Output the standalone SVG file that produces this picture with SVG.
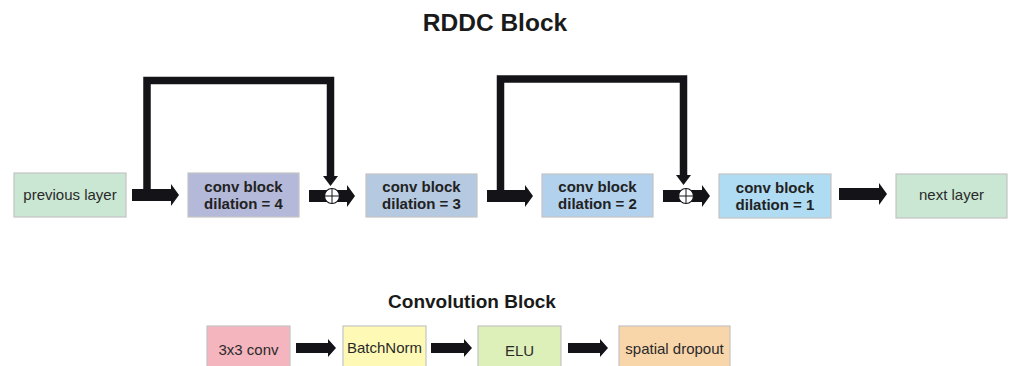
<svg xmlns="http://www.w3.org/2000/svg" width="1013" height="366" viewBox="0 0 1013 366">
<style>
.box{stroke:#c4c4c4;stroke-width:1.2}
.t{font-family:"Liberation Sans",Arial,sans-serif;font-size:15px;fill:#2a2a2a;text-anchor:middle}
.b{font-weight:bold;fill:#222}
.title{font-family:"Liberation Sans",Arial,sans-serif;font-weight:bold;fill:#1a1a1a;text-anchor:middle}
.arr{fill:#141418}
.skip{fill:none;stroke:#141418;stroke-width:7.5;stroke-linejoin:miter}
.sum{fill:#fff;stroke:#141418;stroke-width:1.2}
</style>
<rect width="1013" height="366" fill="#fff"/>
<text class="title" x="495" y="31" font-size="24.5">RDDC Block</text>
<text class="title" x="472" y="308" font-size="19">Convolution Block</text>

<g id="previous-layer"><rect class="box" x="14" y="173" width="112" height="44" fill="#c9e7d2"/><text class="t" x="70" y="200">previous layer</text></g>
<g id="conv-d4"><rect class="box" x="188" y="173" width="111" height="44" fill="#b5b9d9"/><text class="t b" x="243.5" y="192">conv block</text><text class="t b" x="243.5" y="209">dilation = 4</text></g>
<g id="conv-d3"><rect class="box" x="366" y="174" width="111" height="43" fill="#b5c9e1"/><text class="t b" x="421.5" y="192">conv block</text><text class="t b" x="421.5" y="209">dilation = 3</text></g>
<g id="conv-d2"><rect class="box" x="542" y="174" width="111" height="43" fill="#b1d1ed"/><text class="t b" x="597.5" y="192">conv block</text><text class="t b" x="597.5" y="209">dilation = 2</text></g>
<g id="conv-d1"><rect class="box" x="719" y="174" width="112" height="44" fill="#afdcf3"/><text class="t b" x="775" y="193">conv block</text><text class="t b" x="775" y="210">dilation = 1</text></g>
<g id="next-layer"><rect class="box" x="896" y="174" width="111" height="44" fill="#c9e7d2"/><text class="t" x="951.5" y="200">next layer</text></g>

<g id="conv3x3"><rect class="box" x="207" y="326" width="83" height="46" fill="#f4b5be"/><text class="t" x="248.5" y="355">3x3 conv</text></g>
<g id="batchnorm"><rect class="box" x="343" y="326" width="83" height="46" fill="#fefab6"/><text class="t" x="384.5" y="353">BatchNorm</text></g>
<g id="elu"><rect class="box" x="478" y="326" width="83" height="46" fill="#def0b9"/><text class="t" x="519.5" y="356">ELU</text></g>
<g id="spatial-dropout"><rect class="box" x="619" y="326" width="111" height="46" fill="#f9d5aa"/><text class="t" x="674.5" y="354">spatial dropout</text></g>

<g id="connectors">
<path class="skip" d="M147,190 V80.5 H330.5 V177"/>
<polygon class="arr" points="323,176 338,176 330.5,186"/>
<path class="skip" d="M500.5,190 V79 H683.5 V176"/>
<polygon class="arr" points="676,175 691,175 683.5,185"/>

<polygon class="arr" points="132,189 171,189 171,184 179,195 171,206 171,201 132,201"/>
<polygon class="arr" points="309,190 347,190 347,185 355,196 347,207 347,202 309,202"/>
<polygon class="arr" points="487,190 525,190 525,185 533,196 525,207 525,202 487,202"/>
<polygon class="arr" points="663,190 702,190 702,185 710,196 702,207 702,202 663,202"/>
<polygon class="arr" points="839,188 879,188 879,183 887,194 879,205 879,200 839,200"/>

<circle class="sum" cx="332" cy="196" r="7.5"/>
<path d="M324.5,196 H339.5 M332,188.5 V203.5" stroke="#141418" stroke-width="1"/>
<circle class="sum" cx="686" cy="196" r="7.5"/>
<path d="M678.5,196 H693.5 M686,188.5 V203.5" stroke="#141418" stroke-width="1"/>

<polygon class="arr" points="296,343 328,343 328,339 336,348 328,357 328,353 296,353"/>
<polygon class="arr" points="431,343 464,343 464,339 472,348 464,357 464,353 431,353"/>
<polygon class="arr" points="568,343 600,343 600,339 608,348 600,357 600,353 568,353"/>
</g>
</svg>
